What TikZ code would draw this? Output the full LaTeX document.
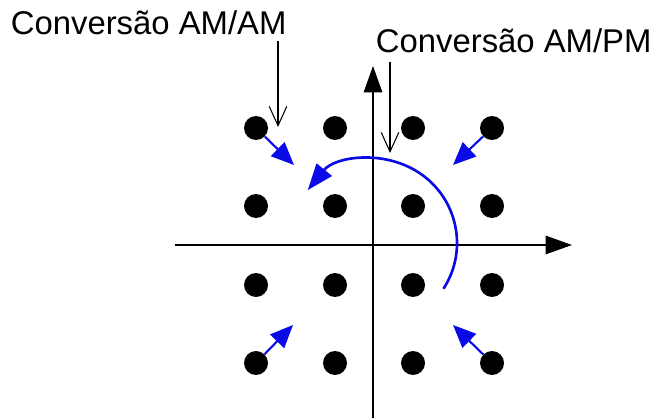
\documentclass[tikz,border=0pt]{standalone}
\usepackage{fontspec}
\setmainfont{Liberation Sans}
\usetikzlibrary{arrows.meta}
\definecolor{bl}{RGB}{10,10,230}
\begin{document}
\begin{tikzpicture}[x=0.02cm,y=-0.02cm,
  dot/.style={circle,fill=black,minimum size=0.48cm,inner sep=0pt},
  axis/.style={line width=0.85pt,-{Triangle[length=15pt,width=10.5pt]}},
  thin/.style={line width=0.6pt,-{Straight Barb[length=11pt,width=10pt]}},
  blarrow/.style={bl,line width=1.2pt,-{Triangle[length=13pt,width=11pt]}},
  lbl/.style={anchor=base west,inner sep=0pt,font=\fontsize{18.7pt}{22pt}\selectfont}]
\useasboundingbox (0,0) rectangle (658,418);
% axes
\coordinate (xl) at (175,245);
\coordinate (xr) at (572,245);
\coordinate (yb) at (373,418);
\coordinate (yt) at (373,66);
\draw[axis] (xl) -- (xr);
\draw[axis] (yb) -- (yt);
% dots
\foreach \x/\i in {256/1,335/2,413/3,492/4}{
  \foreach \y/\j in {128/1,206/2,285/3,363/4}{
    \node[dot] (d\i\j) at (\x,\y) {};
  }
}
% labels
\node[lbl] (l1) at (10.5,35) {Conversão AM/AM};
\node[lbl] (l2) at (375.5,53) {Conversão AM/PM};
\coordinate (a1s) at (278,41);
\coordinate (a1e) at (278,127);
\coordinate (a2s) at (390,62);
\coordinate (a2e) at (390,153);
\draw[thin] (a1s) -- (a1e);
\draw[thin] (a2s) -- (a2e);
% blue short arrows
\coordinate (t11) at (294,165);
\coordinate (t41) at (453,165);
\coordinate (t14) at (293,325);
\coordinate (t44) at (453,325);
\draw[blarrow] (d11) -- (t11);
\draw[blarrow] (d41) -- (t41);
\draw[blarrow] (d14) -- (t14);
\draw[blarrow] (d44) -- (t44);
% blue arc
\coordinate (c) at (373,243);
\draw[bl,line width=1.5pt,-{Triangle[length=15pt,width=11pt]}]
  ([shift={(33:84)}]c) arc[start angle=33,end angle=-141,radius=84];
\end{tikzpicture}
\end{document}
